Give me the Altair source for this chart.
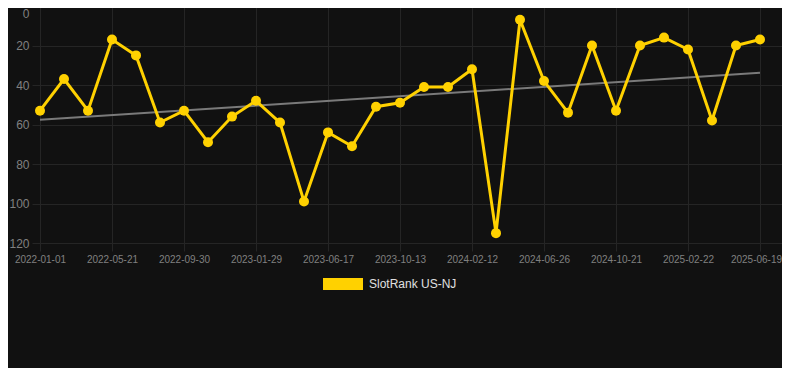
import altair as alt
import pandas as pd

# ---- data ----
ranks = [53, 37, 53, 17, 25, 59, 53, 69, 56, 48, 59, 99, 64, 71, 51, 49,
         41, 41, 32, 115, 7, 38, 54, 20, 53, 20, 16, 22, 58, 20, 17]
tick_labels = ["2022-01-01", "2022-05-21", "2022-09-30", "2023-01-29",
               "2023-06-17", "2023-10-13", "2024-02-12", "2024-06-26",
               "2024-10-21", "2025-02-22", "2025-06-19"]
y_ticks = [0, 20, 40, 60, 80, 100, 120]
series_name = "SlotRank US-NJ"

df = pd.DataFrame({"idx": list(range(len(ranks))), "rank": ranks,
                   "series": [series_name] * len(ranks)})

YELLOW = "#FFD100"
GRID = "#252525"
LABEL = "#808080"
FONT = "Liberation Sans"

label_expr = "[" + ",".join(f"'{t}'" for t in tick_labels) + "][round(datum.value/3)]"

x_axis = alt.Axis(values=list(range(0, 31, 3)), labelExpr=label_expr, title=None,
                  grid=True, gridColor=GRID, domain=False, ticks=True, tickSize=8,
                  tickColor=GRID, labelColor=LABEL, labelFontSize=10, labelFont=FONT,
                  labelPadding=3, labelFlush=False, labelOverlap=False,
                  labelOffset={"condition": {"test": "datum.value == 30", "value": -4},
                               "value": 0})
y_axis = alt.Axis(values=y_ticks, title=None, grid=True, gridColor=GRID, domain=False,
                  ticks=False, labelColor=LABEL, labelFontSize=12, labelFont=FONT,
                  labelPadding=3, labelOverlap=False, labelFlush=False,
                  labelBaseline={"condition": {"test": "datum.value == 0", "value": "top"},
                                 "value": "middle"},
                  labelOffset={"condition": {"test": "datum.value == 0", "value": 2},
                               "value": 0})

x_scale = alt.Scale(domain=[-1 / 3, 742 / 24], nice=False, zero=False)
y_scale = alt.Scale(domain=[0, 120], reverse=True, nice=False, zero=False)

x_enc = alt.X("idx:Q", scale=x_scale, axis=x_axis)
y_enc = alt.Y("rank:Q", scale=y_scale, axis=y_axis)

base = alt.Chart(df)

trend = base.transform_regression("idx", "rank").mark_line(
    color="#7a7a7a", strokeWidth=2).encode(x=x_enc, y=y_enc)
line = base.mark_line(color=YELLOW, strokeWidth=3).encode(x=x_enc, y=y_enc)
points = base.mark_point(filled=True, size=100, opacity=1).encode(
    x=x_enc, y=y_enc,
    color=alt.Color("series:N", scale=alt.Scale(range=[YELLOW]),
                    legend=alt.Legend(orient="none", legendX=291, legendY=258,
                                      title=None, symbolType="M-1,-0.3H1V0.3H-1Z",
                                      symbolSize=1600, symbolStrokeWidth=0,
                                      labelColor="#e0e0e0", labelFontSize=12,
                                      labelFont=FONT, labelOffset=6, padding=0)),
)

chart = alt.layer(trend, line, points).properties(
    width=750, height=237,
    autosize=alt.AutoSizeParams(type="none"),
    padding={"left": 24, "top": -2, "right": 0, "bottom": 125},
    background="#111111",
).configure_view(stroke=None)

chart.save("out.html", embed_options={"renderer": "svg", "actions": False})
